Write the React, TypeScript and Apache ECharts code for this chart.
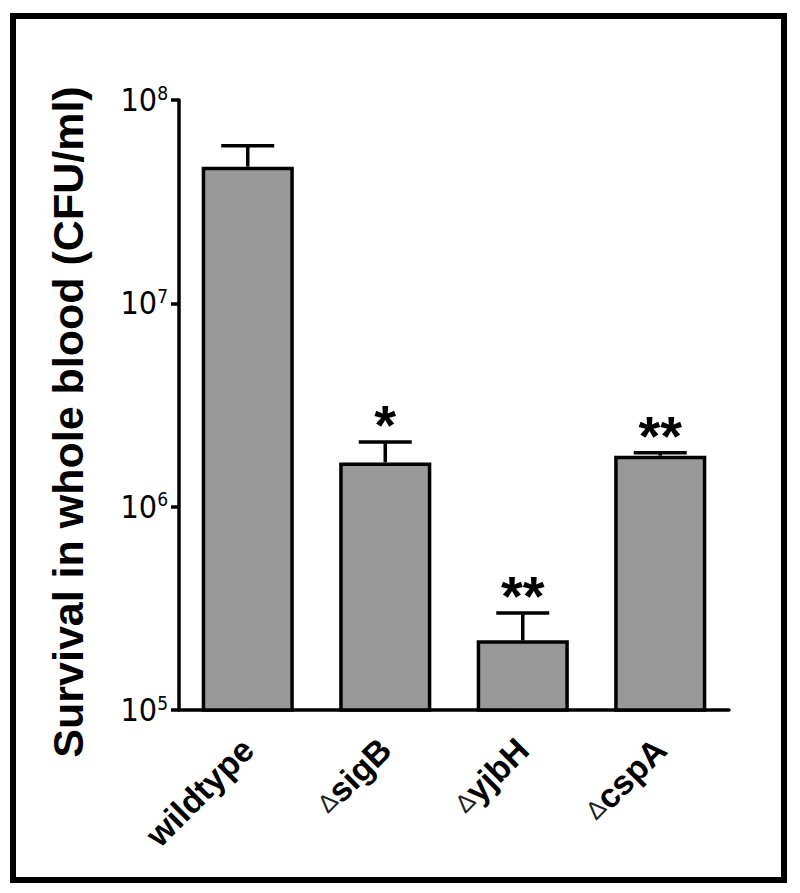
import React, { useEffect, useRef } from "react";
import * as echarts from "echarts";

const categories = ["wildtype", "sigB", "yjbH", "cspA"];
const hasDelta = [false, true, true, true];
const survival = [4.7e7, 1.65e6, 2.2e5, 1.78e6];
const errorUpper = [5.95e7, 2.08e6, 3.0e5, 1.84e6];
const significance = ["", "*", "**", "**"];

const NARROW = "'Liberation Sans Narrow', 'Arial Narrow', 'DejaVu Sans Condensed', sans-serif";
const SANS = "'Liberation Sans', Arial, sans-serif";

export default function App() {
  const ref = useRef<HTMLDivElement>(null);
  useEffect(() => {
    if (!ref.current) return;
    const chart = echarts.init(ref.current, undefined, { renderer: "svg" });
    const errData = categories.map((_, i) => [i, survival[i], errorUpper[i]]);
    chart.setOption({
      animation: false,
      backgroundColor: "#ffffff",
      graphic: [
        {
          type: "rect",
          shape: { x: 13, y: 16, width: 771, height: 864 },
          style: { fill: "none", stroke: "#000", lineWidth: 6 },
        },
      ],
      grid: { left: 179, right: 71, top: 100, bottom: 183 },
      xAxis: {
        type: "category",
        data: categories.map((c, i) => (hasDelta[i] ? "{d|\u0394}{g|" + c + "}" : "{g|" + c + "}")),
        axisLine: { lineStyle: { color: "#000", width: 3.5 } },
        axisTick: { show: false },
        axisLabel: {
          rotate: 45,
          margin: 34,
          interval: 0,
          formatter: (v: string) => v,
          rich: {
            d: { fontFamily: SANS, fontSize: 25, fontWeight: "normal", color: "#222" },
            g: { fontFamily: SANS, fontSize: 34, fontWeight: "bold", color: "#000" },
          },
        },
      },
      yAxis: {
        type: "log",
        logBase: 10,
        min: 1e5,
        max: 1e8,
        name: "Survival in whole blood (CFU/ml)",
        nameLocation: "middle",
        nameGap: 90,
        nameTextStyle: {
          fontFamily: SANS,
          fontSize: 43,
          fontWeight: "bold",
          color: "#000",
          padding: [0, 34, 0, 0],
        },
        axisLine: { show: true, lineStyle: { color: "#000", width: 3.5 } },
        axisTick: { show: true, length: 8, lineStyle: { color: "#000", width: 3.5 } },
        splitLine: { show: false },
        minorTick: { show: false },
        axisLabel: {
          margin: 11,
          formatter: (v: number) => "{a|10}{b|" + Math.round(Math.log10(v)) + "}",
          rich: {
            a: { fontFamily: NARROW, fontSize: 32, color: "#000", lineHeight: 34 },
            b: { fontFamily: NARROW, fontSize: 19, color: "#000", verticalAlign: "top", lineHeight: 19 },
          },
        },
      },
      series: [
        {
          type: "bar",
          data: survival,
          barWidth: "67%",
          itemStyle: { color: "#999999", borderColor: "#000", borderWidth: 3.5 },
          z: 2,
        },
        {
          type: "custom",
          data: errData,
          z: 3,
          renderItem: (params: any, api: any) => {
            const i = api.value(0);
            const top = api.coord([i, api.value(1)]);
            const cap = api.coord([i, api.value(2)]);
            const sig = significance[params.dataIndex];
            const half = 26.5;
            const children: any[] = [
              {
                type: "line",
                shape: { x1: top[0], y1: top[1], x2: cap[0], y2: cap[1] },
                style: { stroke: "#000", lineWidth: 3.5 },
              },
              {
                type: "line",
                shape: { x1: cap[0] - half, y1: cap[1], x2: cap[0] + half, y2: cap[1] },
                style: { stroke: "#000", lineWidth: 3.5 },
              },
            ];
            if (sig) {
              children.push({
                type: "text",
                style: {
                  x: cap[0],
                  y: cap[1] - 17,
                  text: sig,
                  fontFamily: SANS,
                  fontSize: 56,
                  fontWeight: "bold",
                  fill: "#000",
                  align: "center",
                  verticalAlign: "middle",
                },
              });
            }
            return { type: "group", children };
          },
        },
      ],
    });
    return () => chart.dispose();
  }, []);
  return <div ref={ref} style={{ position: "fixed", left: 0, top: 0, width: 800, height: 893 }} />;
}
